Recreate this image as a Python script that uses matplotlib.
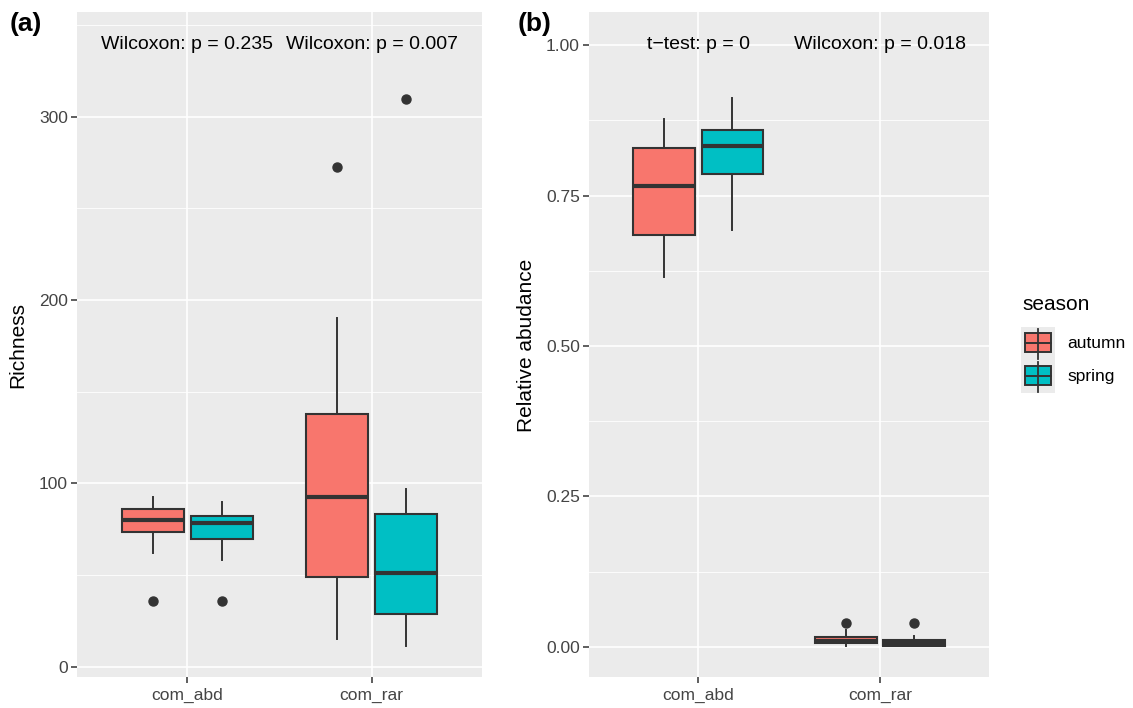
import matplotlib.pyplot as plt
from matplotlib.patches import Rectangle
from matplotlib.lines import Line2D

plt.rcParams['font.family'] = ['Liberation Sans', 'DejaVu Sans']

groups = ['com_abd', 'com_rar']
seasons = ['autumn', 'spring']
season_colors = ['#F8766D', '#00BFC4']

# five numbers per box: whisker low, q1, median, q3, whisker high
rich_autumn = [[62.3, 73.4, 80.1, 86.3, 92.8], [15.4, 49.0, 92.5, 138.0, 190.4]]
rich_spring = [[58.3, 69.9, 78.3, 82.3, 89.7], [11.3, 28.9, 51.4, 83.5, 97.0]]
rich_out_autumn = [[36.1], [272.5]]
rich_out_spring = [[36.1], [309.4]]
rich_p = ['Wilcoxon: p = 0.235', 'Wilcoxon: p = 0.007']

abd_autumn = [[0.615, 0.685, 0.766, 0.829, 0.878], [0.002, 0.006, 0.010, 0.017, 0.028]]
abd_spring = [[0.693, 0.786, 0.832, 0.859, 0.912], [0.001, 0.002, 0.006, 0.0115, 0.018]]
abd_out_autumn = [[], [0.040]]
abd_out_spring = [[], [0.040]]
abd_p = ['t\u2212test: p = 0', 'Wilcoxon: p = 0.018']

W, H = 1133, 708


def fx(px):
    return px / W


def fy(py):
    return 1 - py / H


def draw_panel(ax, series, outliers, pvals, ylim, major, minor, fmt, p_y):
    ax.set_facecolor('#EBEBEB')
    ax.set_axisbelow(True)
    for j, (vals, outs) in enumerate(zip(series, outliers)):
        stats = []
        for five, fl in zip(vals, outs):
            stats.append(dict(whislo=five[0], q1=five[1], med=five[2],
                              q3=five[3], whishi=five[4], fliers=fl))
        pos = [i + 1 + (j - 0.5) * 0.375 for i in range(len(vals))]
        ax.bxp(stats, positions=pos, widths=0.3375, patch_artist=True,
               showcaps=False, manage_ticks=False,
               boxprops=dict(facecolor=season_colors[j], edgecolor='#333333', linewidth=1.5),
               medianprops=dict(color='#333333', linewidth=3, solid_capstyle='butt'),
               whiskerprops=dict(color='#333333', linewidth=1.4),
               flierprops=dict(marker='o', markerfacecolor='#333333',
                               markeredgecolor='#333333', markersize=6.5))
    ax.set_xlim(0.4, 2.6)
    ax.set_ylim(*ylim)
    ax.set_xticks([1, 2])
    ax.set_xticklabels(groups)
    ax.set_yticks(major)
    ax.set_yticklabels([fmt.format(v) for v in major])
    ax.set_yticks(minor, minor=True)
    ax.grid(True, which='major', color='white', linewidth=1.2)
    ax.grid(True, which='minor', axis='y', color='white', linewidth=0.6)
    ax.tick_params(which='major', length=4.5, width=1.1, color='#333333',
                   labelcolor='#444444', labelsize=12.5)
    ax.tick_params(axis='x', pad=3.5)
    ax.tick_params(axis='y', pad=2)
    ax.tick_params(which='minor', length=0)
    for s in ax.spines.values():
        s.set_visible(False)
    for i, t in enumerate(pvals):
        ax.text(i + 1, p_y, t, ha='center', va='baseline', fontsize=14, color='black')


fig = plt.figure(figsize=(W / 100, H / 100), dpi=100)
ax_a = fig.add_axes([fx(77), fy(677), fx(482 - 77), (677 - 12) / H])
ax_b = fig.add_axes([fx(589), fy(677), fx(989 - 589), (677 - 12) / H])

draw_panel(ax_a, [rich_autumn, rich_spring], [rich_out_autumn, rich_out_spring], rich_p,
           (-5.5, 357), [0, 100, 200, 300], [50, 150, 250, 350], '{:.0f}', 336.8)
draw_panel(ax_b, [abd_autumn, abd_spring], [abd_out_autumn, abd_out_spring], abd_p,
           (-0.05, 1.055), [0, 0.25, 0.5, 0.75, 1.0], [0.125, 0.375, 0.625, 0.875], '{:.2f}', 0.993)

fig.text(fx(18), fy(345), 'Richness', rotation=90, ha='center', va='center', fontsize=15)
fig.text(fx(527), fy(345), 'Relative abudance', rotation=90, ha='center', va='center', fontsize=15)
fig.text(fx(10), fy(31), '(a)', fontsize=19, fontweight='bold', va='baseline')
fig.text(fx(518), fy(31), '(b)', fontsize=19, fontweight='bold', va='baseline')

# legend drawn by hand in figure pixels
fig.text(fx(1022), fy(305), 'season', fontsize=15, va='center')
for k, name in enumerate(seasons):
    top = 327 + k * 33
    fig.add_artist(Rectangle((fx(1021), fy(top + 33)), fx(34), 33 / H,
                             transform=fig.transFigure, facecolor='#EBEBEB', edgecolor='none'))
    fig.add_artist(Line2D([fx(1038), fx(1038)], [fy(top + 1.5), fy(top + 31.5)],
                          transform=fig.transFigure, color='#333333', linewidth=1.3))
    fig.add_artist(Rectangle((fx(1025), fy(top + 25)), fx(26), 19 / H,
                             transform=fig.transFigure, facecolor=season_colors[k],
                             edgecolor='#333333', linewidth=1.4))
    fig.add_artist(Line2D([fx(1025), fx(1051)], [fy(top + 16), fy(top + 16)],
                          transform=fig.transFigure, color='#333333', linewidth=1.4))
    fig.text(fx(1067), fy(top + 16.5), name, fontsize=12.5, va='center')

fig.savefig('out.png', dpi=100)
